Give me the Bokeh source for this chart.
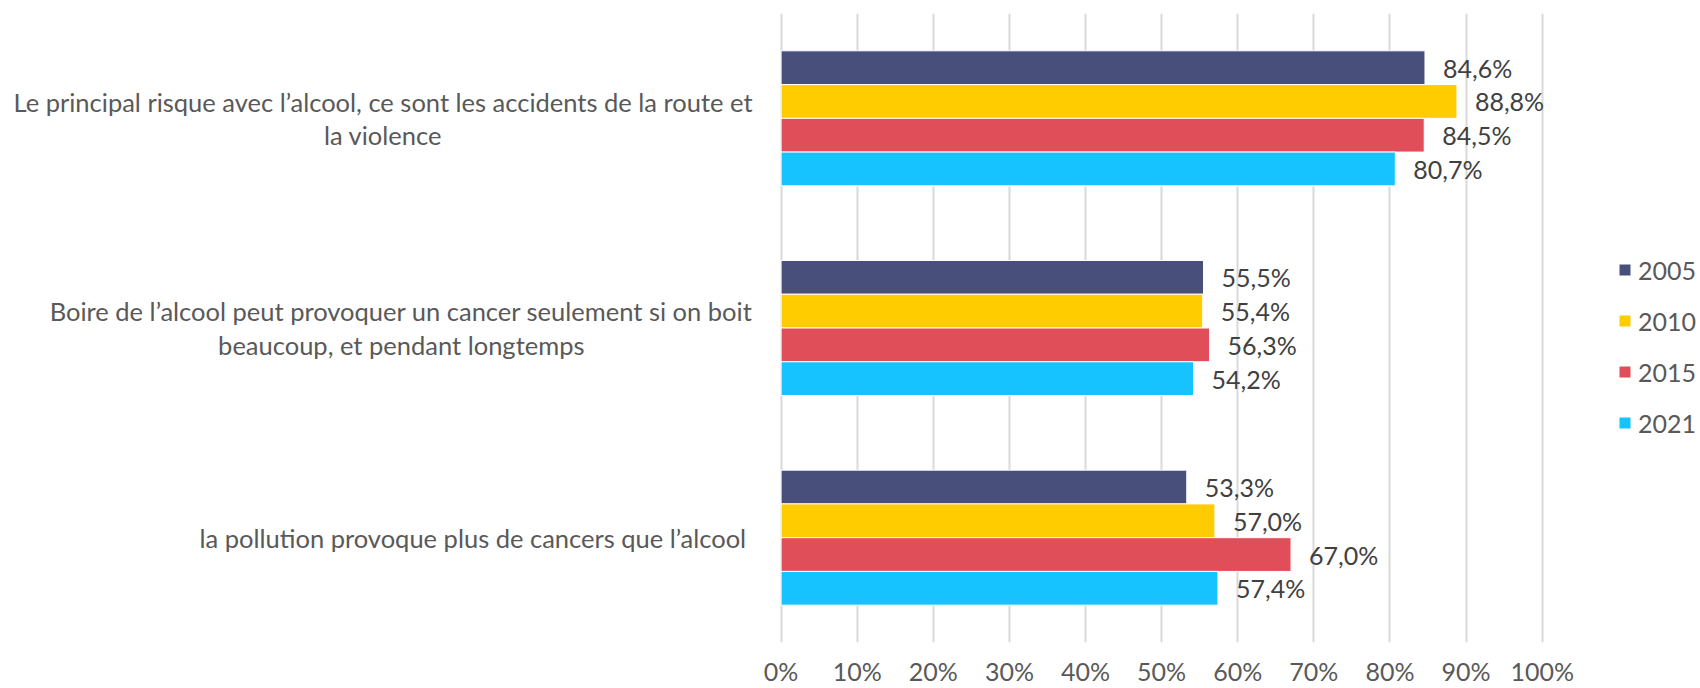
from bokeh.plotting import figure
from bokeh.models import (Range1d, FactorRange, FixedTicker, ColumnDataSource,
                          Label, Legend, LegendItem)
from bokeh.transform import dodge
from bokeh.embed import file_html
from bokeh.resources import INLINE
from bokeh.core.properties import value

# ---------------- data ----------------
categories = [
    "Le principal risque avec l’alcool, ce sont les accidents de la route et\nla violence",
    "Boire de l’alcool peut provoquer un cancer seulement si on boit\nbeaucoup, et pendant longtemps",
    "la pollution provoque plus de cancers que l’alcool",
]
years = ["2005", "2010", "2015", "2021"]
v2005 = [84.6, 55.5, 53.3]
v2010 = [88.8, 55.4, 57.0]
v2015 = [84.5, 56.3, 67.0]
v2021 = [80.7, 54.2, 57.4]
x_ticks = [0, 10, 20, 30, 40, 50, 60, 70, 80, 90, 100]

series = [v2005, v2010, v2015, v2021]
colors = ["#474F7A", "#FFCC00", "#E04F59", "#17C3FF"]
offsets = [0.2415, 0.0805, -0.0805, -0.2415]
bar_h = 0.161

FONT = "Lato"
TXT = "#595959"

# frame spans the whole width; value axis 0..100 maps to x=780.6..1541.7 px
p = figure(width=1700, height=688, output_backend="svg", toolbar_location=None,
           x_range=Range1d(-102.56, 120.8),
           y_range=FactorRange(factors=categories[::-1]),
           min_border_left=0, min_border_right=0, min_border_top=13,
           min_border_bottom=46)
p.outline_line_color = None
p.background_fill_color = "white"
p.border_fill_color = "white"

p.xgrid.grid_line_color = "#D9D9D9"
p.xgrid.grid_line_width = 2
p.ygrid.grid_line_color = None
p.xaxis.ticker = FixedTicker(ticks=x_ticks)
p.xaxis.major_label_overrides = {t: f"{t}%" for t in x_ticks}
p.xaxis.axis_line_color = None
p.xaxis.major_tick_line_color = None
p.xaxis.minor_tick_line_color = None
p.xaxis.major_tick_out = 0
p.xaxis.major_tick_in = 0
p.xaxis.major_label_standoff = 13
p.xaxis.major_label_text_font = FONT
p.xaxis.major_label_text_font_size = "25px"
p.xaxis.major_label_text_color = TXT
p.yaxis.visible = False

items = []
for yr, vals, col, off in zip(years, series, colors, offsets):
    src = ColumnDataSource(dict(
        cat=categories, val=vals,
        lab=[(f"{v:.1f}".replace(".", ",") + "%") for v in vals]))
    r = p.hbar(y=dodge("cat", off, range=p.y_range), left=0, right="val",
               height=bar_h, source=src, fill_color=col, line_color="white",
               line_width=1)
    p.text(x="val", y=dodge("cat", off, range=p.y_range), text="lab", source=src,
           x_offset=18, text_align="left", text_baseline="middle",
           text_font=value(FONT), text_font_size="25px", text_color="#404040")
    items.append(LegendItem(label=yr, renderers=[r]))

# category labels (right-aligned block, centred lines)
label_x = [-52.3, -49.9, -40.5]
n = len(categories)
for i, (cat, lx) in enumerate(zip(categories, label_x)):
    p.add_layout(Label(x=lx, y=n - i - 0.5, text=cat, text_align="center",
                       text_baseline="middle", text_font=FONT,
                       text_font_size="25.5px", text_color=TXT,
                       text_line_height=1.12))

legend = Legend(items=items, location=(1617, 204), orientation="vertical",
                glyph_width=15, glyph_height=15, label_standoff=6,
                label_height=31, spacing=20, padding=0, margin=0,
                label_text_font=FONT, label_text_font_size="25px",
                label_text_color=TXT, border_line_color=None,
                background_fill_alpha=0)
p.add_layout(legend)

open("out.html", "w").write(file_html(p, INLINE))
